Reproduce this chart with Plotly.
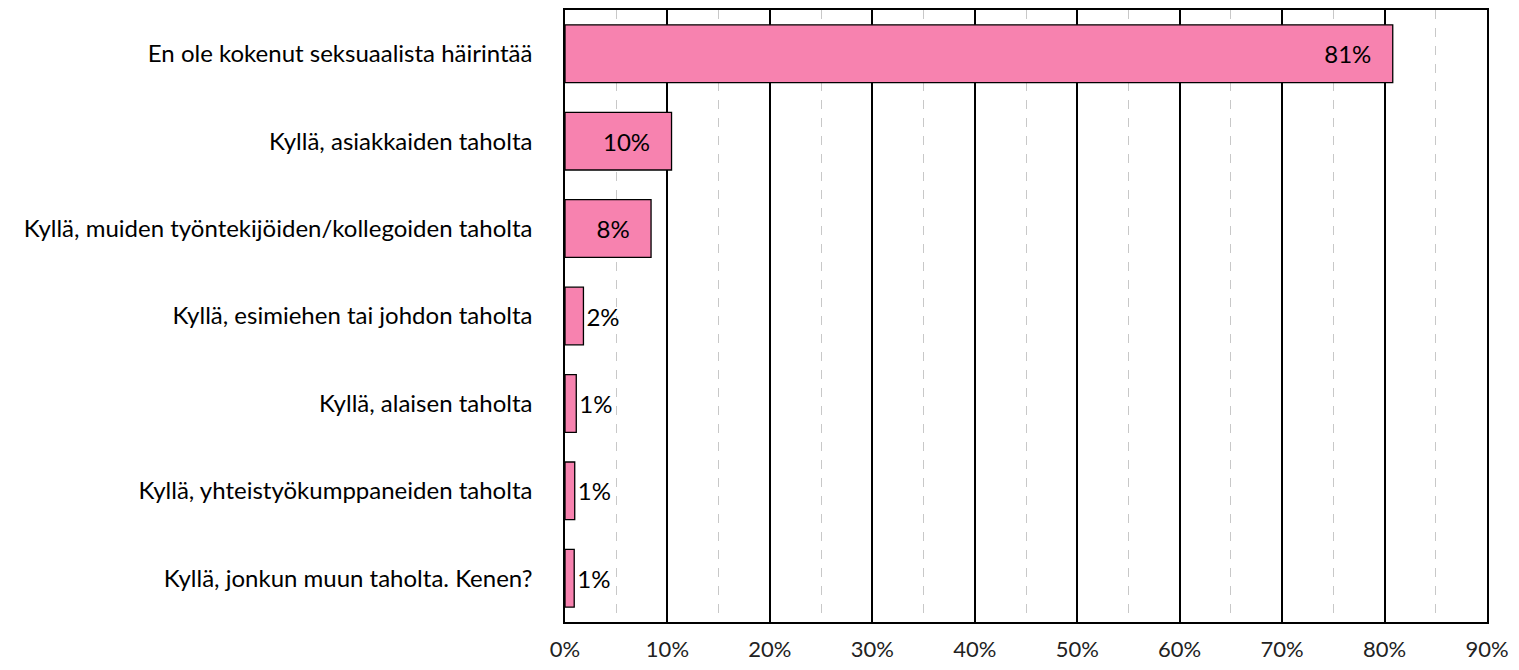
import plotly.graph_objects as go

# --- Data ---
categories = [
    "En ole kokenut seksuaalista häirintää",
    "Kyllä, asiakkaiden taholta",
    "Kyllä, muiden työntekijöiden/kollegoiden taholta",
    "Kyllä, esimiehen tai johdon taholta",
    "Kyllä, alaisen taholta",
    "Kyllä, yhteistyökumppaneiden taholta",
    "Kyllä, jonkun muun taholta. Kenen?",
]
values = [80.8, 10.4, 8.4, 1.8, 1.1, 0.95, 0.9]
labels = ["81%", "10%", "8%", "2%", "1%", "1%", "1%"]
tick_vals = list(range(0, 91, 10))

NBSP = "\u00a0"
FONT = "Lato, Calibri, sans-serif"
FS = 24

# big bars get their label inside (with a bit of right padding), small ones outside
positions = ["inside" if v > 5 else "outside" for v in values]
texts = [t + NBSP * 3 if p == "inside" else t for t, p in zip(labels, positions)]

fig = go.Figure()
fig.add_trace(go.Bar(
    x=values,
    y=categories,
    orientation="h",
    text=texts,
    textposition=positions,
    insidetextanchor="end",
    constraintext="none",
    cliponaxis=False,
    textfont=dict(family=FONT, size=FS, color="black"),
    marker=dict(color="#F782AF", line=dict(color="black", width=1.3)),
    hoverinfo="x+y",
))

# page body has an 8px margin, so the figure starts at (8, 8)
fig.update_layout(
    width=1503,
    height=654,
    plot_bgcolor="white",
    paper_bgcolor="white",
    font=dict(family=FONT, size=FS, color="black"),
    margin=dict(l=557, r=24, t=2, b=40),
    bargap=0.34,
    showlegend=False,
)

fig.update_xaxes(
    range=[0, 90],
    tickvals=tick_vals,
    ticktext=[f"{v}%" for v in tick_vals],
    showgrid=True,
    gridcolor="black",
    gridwidth=1.5,
    minor=dict(dtick=5, showgrid=True, gridcolor="#c8c8c8", griddash="dash", gridwidth=1.2),
    showline=True,
    linecolor="black",
    linewidth=1.5,
    mirror=True,
    zeroline=False,
    ticks="",
    ticklabelstandoff=7,
    ticklabeloverflow="allow",
    automargin=False,
    tickfont=dict(family=FONT, size=22, color="#222"),
)
fig.update_yaxes(
    autorange="reversed",
    showline=True,
    linecolor="black",
    linewidth=1.5,
    mirror=True,
    showgrid=False,
    ticks="",
    ticklabelstandoff=26,
    automargin=False,
    tickfont=dict(family=FONT, size=FS, color="black"),
)

fig.write_html("out.html")
